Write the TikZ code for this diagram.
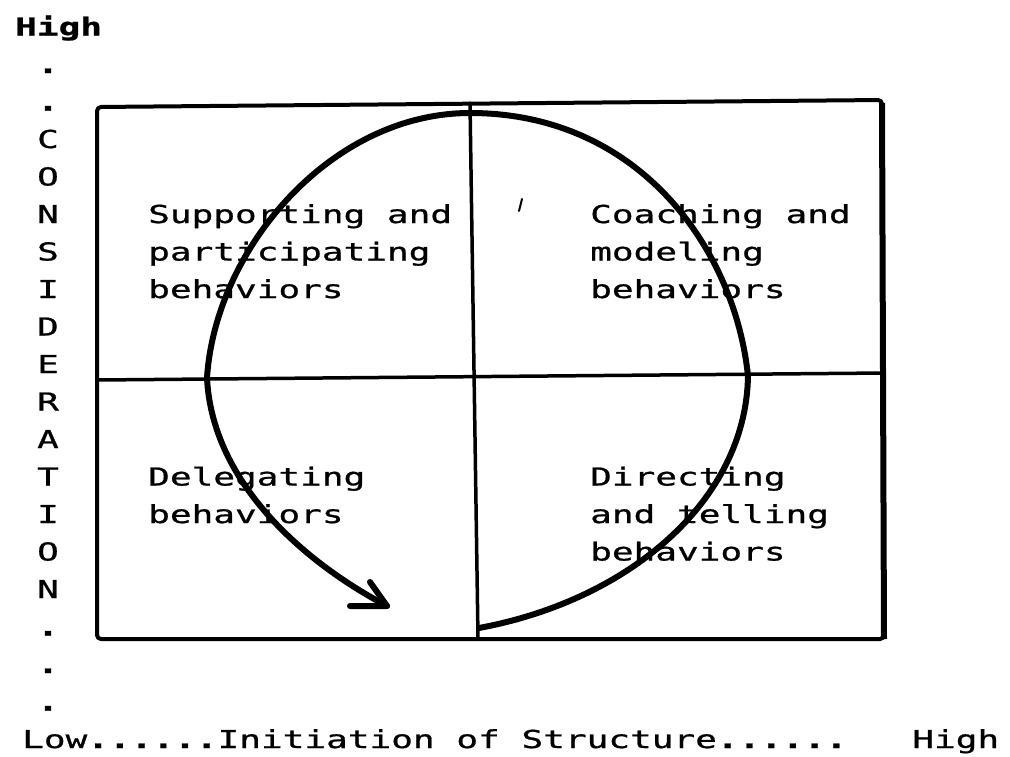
\documentclass[tikz,border=0pt]{standalone}
\usepackage{fontspec}
\newfontfamily\dm[FakeStretch=1.46,FakeBold=0.9]{DejaVu Sans Mono}
\newcommand{\bigdots}[1]{{\bfseries #1}}
\begin{document}
\begin{tikzpicture}[x=1pt,y=-1pt,
  txt/.style={anchor=base west, inner sep=0pt, font=\dm\fontsize{24.7}{30}\selectfont},
  colchar/.style={anchor=base, inner sep=0pt, font=\dm\fontsize{24.7}{30}\selectfont},
  frame/.style={line width=4pt, line join=round, line cap=round},
  midline/.style={line width=3.5pt, line cap=round},
  loopline/.style={line width=6pt, line cap=round, line join=round}]
\useasboundingbox (0,0) rectangle (1010,756);
% axis texts
\node[txt, font=\dm\bfseries\fontsize{24.7}{30}\selectfont] (hightop) at (15,35.5) {High};
\foreach \c [count=\k from 1] in {\bigdots{.},\bigdots{.},C,O,N,S,I,D,E,R,A,T,I,O,N,\bigdots{.},\bigdots{.},\bigdots{.}}
  \node[colchar] (c\k) at (48,35.5+37.5*\k) {\c};
\node[txt] (bottom) at (22,748) {Low\bigdots{......}Initiation of Structure\bigdots{......}~~~High};
% frame
\coordinate (tl) at (97,107);
\coordinate (tr) at (882,100);
\coordinate (br) at (884,639);
\coordinate (bl) at (97,639);
\coordinate (ml) at (97,380);
\coordinate (mr) at (884,373);
\coordinate (mt) at (470,103);
\coordinate (mb) at (478,638);
\draw[frame, rounded corners=4pt] (bl) -- (tl) -- (tr) -- (br) -- cycle;
\draw[line width=6pt] (tr) ++(0,3) -- (br);
\draw[midline] (ml) -- (mr);
\draw[midline] (mt) -- (mb);
% quadrant texts
\node[txt] (s1) at (148,223) {Supporting and};
\node[txt] (s2) at (148,260.5) {participating};
\node[txt] (s3) at (148,298) {behaviors};
\node[txt] (k1) at (590,223) {Coaching and};
\node[txt] (k2) at (590,260.5) {modeling};
\node[txt] (k3) at (590,298) {behaviors};
\node[txt] (d1) at (148,485.5) {Delegating};
\node[txt] (d2) at (148,523) {behaviors};
\node[txt] (r1) at (590,485.5) {Directing};
\node[txt] (r2) at (590,523) {and telling};
\node[txt] (r3) at (590,560.5) {behaviors};
% loop
\coordinate (lstart) at (479,628);
\coordinate (lright) at (748,376);
\coordinate (ltop) at (470,113);
\coordinate (lleft) at (207,378);
\coordinate (tip) at (387,606);
\draw[loopline] (lstart) .. controls (630,600) and (746,500) .. (lright)
  .. controls (735,250) and (640,113) .. (ltop)
  .. controls (330,113) and (215,250) .. (lleft)
  .. controls (212,480) and (300,560) .. (tip);
\draw[loopline] (370,582) -- (tip) -- (350,606);
% stray mark
\draw[line width=2pt, line cap=round] (522,199) -- (519,211);
\end{tikzpicture}
\end{document}
